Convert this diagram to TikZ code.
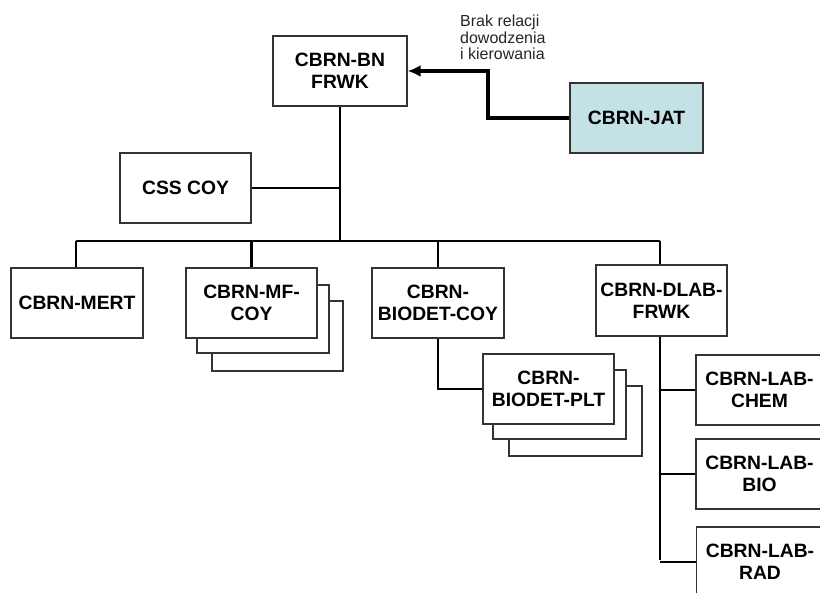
\documentclass[tikz,border=0pt]{standalone}
\usepackage{fontspec}
\setmainfont{Liberation Sans}
\usetikzlibrary{arrows.meta}
\definecolor{jatfill}{HTML}{C4E2E6}
\definecolor{edgegray}{HTML}{333333}
\tikzset{
  unit/.style={draw=edgegray, line width=1.3pt, fill=white, rectangle, inner sep=0pt,
    minimum height=70pt, align=center, text=black,
    font=\fontsize{19.3}{22}\selectfont\bfseries},
  shadowbox/.style={draw=edgegray, line width=1.3pt, fill=white},
  link/.style={draw=black, line width=2.8pt},
  relarrow/.style={draw=black, line width=3.6pt, -{Latex[length=13pt,width=12pt]}}
}
\begin{document}
\begin{tikzpicture}[x=1pt,y=-1pt]
\clip (0,0) rectangle (820,593);
\fill[white] (0,0) rectangle (820,593);

% shadow copies
\draw[shadowbox] (212,301) rectangle (343,371);
\draw[shadowbox] (197,285) rectangle (329,353);
\draw[shadowbox] (509,386) rectangle (642,456);
\draw[shadowbox] (493,370) rectangle (626,439);

% nodes
\node[unit, minimum width=134pt] (bn) at (340,71) {CBRN-BN\\FRWK};
\node[unit, minimum width=133pt, fill=jatfill] (jat) at (636.5,118) {CBRN-JAT};
\node[unit, minimum width=131pt] (css) at (185.5,188) {CSS COY};
\node[unit, minimum width=132pt] (mert) at (77,303) {CBRN-MERT};
\node[unit, minimum width=131pt] (mf) at (251.5,303) {CBRN-MF-\\COY};
\node[unit, minimum width=132pt] (bdc) at (438,303) {CBRN-\\BIODET-COY};
\node[unit, minimum width=131pt, minimum height=71pt] (dlab) at (661.5,300.5) {CBRN-DLAB-\\FRWK};
\node[unit, minimum width=131pt] (bdp) at (548.5,389) {CBRN-\\BIODET-PLT};
\node[unit, minimum width=127pt] (chem) at (759.5,390) {CBRN-LAB-\\CHEM};
\node[unit, minimum width=127pt] (bio) at (759.5,474) {CBRN-LAB-\\BIO};
\node[unit, minimum width=127pt] (rad) at (760,562) {CBRN-LAB-\\RAD};

\node[anchor=north west, inner sep=0pt, align=left,
  font=\fontsize{16}{16.5}\selectfont, text=black!85] (lbl) at (460,15)
  {Brak relacji\\dowodzenia\\i kierowania};

% connectors
\coordinate (busL) at (76,241);
\coordinate (busR) at (660,241);
\coordinate (busM) at (340,241);
\coordinate (cssj) at (340,188);
\coordinate (bend) at (488,118);
\coordinate (dlabEnd) at (660,560);

\draw[link] (bn.south) -- (busM);
\draw[link] (css.east) -- (cssj);
\draw[link] (busL) -- (busR);
\draw[link] (busL) -- (mert.north -| busL);
\draw[link] (mf.north |- busL) -- (mf.north);
\draw[link] (bdc.north |- busL) -- (bdc.north);
\draw[link] (busR) -- (dlab.north -| busR);
\draw[link] (bdc.south) |- (bdp.west);
\draw[link] (dlab.south -| busR) -- (dlabEnd);
\draw[link] (chem.west -| busR) -- (chem.west);
\draw[link] (bio.west -| busR) -- (bio.west);
\draw[link] (rad.west -| busR) -- (rad.west);

\draw[relarrow] (jat.west) -- (bend) |- (bn.east);
\end{tikzpicture}
\end{document}
